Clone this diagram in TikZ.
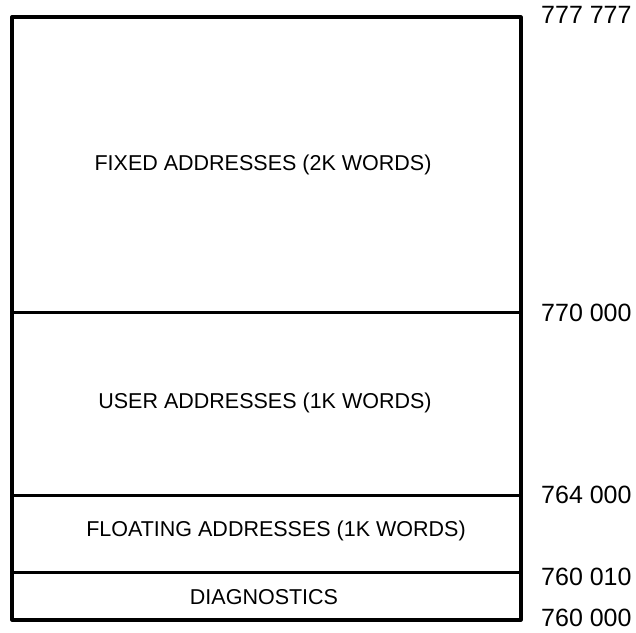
\documentclass[tikz,border=0pt]{standalone}
\usepackage{fontspec}
\setmainfont{Liberation Sans}
\usepackage{tikz}
\tikzset{
  wall/.style={draw=black, line width=3.2pt, line cap=round, line join=round},
  part/.style={draw=black, line width=3pt},
  lab/.style={text=black, font=\fontsize{21.5}{25}\selectfont},
  addr/.style={text=black, font=\fontsize{25}{29}\selectfont, anchor=west, inner sep=0pt},
}
\begin{document}
\begin{tikzpicture}[x=1pt,y=1pt]
  \useasboundingbox (0,0) rectangle (636,632);
  % corners of the memory block
  \coordinate (TL) at (12,615);
  \coordinate (BR) at (521,12);
  % boundaries between the areas
  \coordinate (L1) at (12,319);  \coordinate (R1) at (521,319);
  \coordinate (L2) at (12,137);  \coordinate (R2) at (521,137);
  \coordinate (L3) at (12,60);   \coordinate (R3) at (521,60);
  \draw[wall] (TL) rectangle (BR);
  \draw[part] (L1) -- (R1);
  \draw[part] (L2) -- (R2);
  \draw[part] (L3) -- (R3);
  \node[lab] (fixed) at (263,467) {FIXED ADDRESSES (2K WORDS)};
  \node[lab] (user) at (265,229) {USER ADDRESSES (1K WORDS)};
  \node[lab] (float) at (276,101) {FLOATING ADDRESSES (1K WORDS)};
  \node[lab] (diag) at (264,35) {DIAGNOSTICS};
  \node[addr] (a777) at (541,617) {777 777};
  \node[addr] (a770) at (541,319) {770 000};
  \node[addr] (a764) at (541,137) {764 000};
  \node[addr] (a7601) at (541,55) {760 010};
  \node[addr] (a7600) at (541,14) {760 000};
\end{tikzpicture}
\end{document}
